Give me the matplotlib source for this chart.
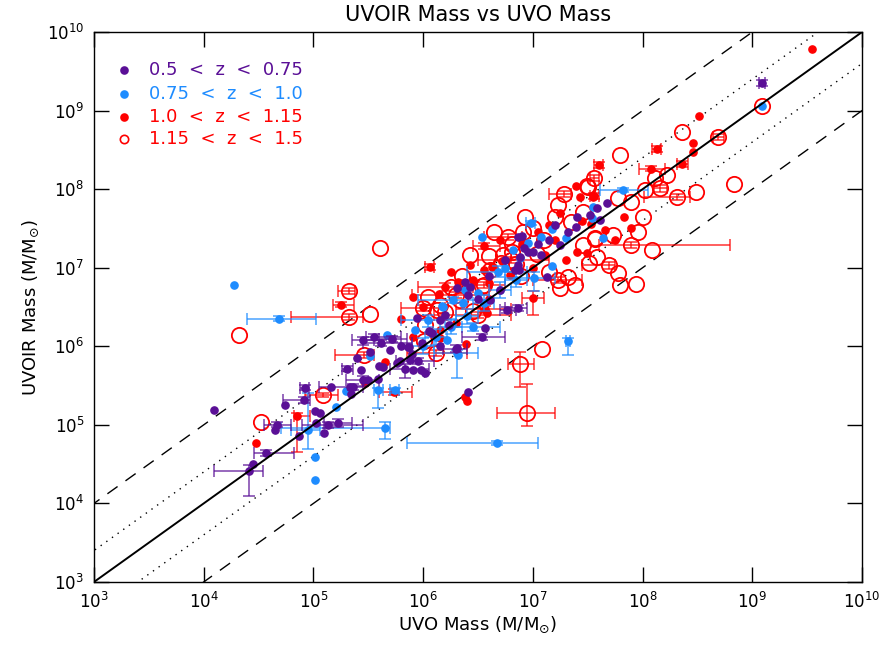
import numpy as np
import matplotlib
matplotlib.use('Agg')
import matplotlib.pyplot as plt

# log10 masses (x = UVO, y = UVOIR)

purple_x = [4.09, 4.45, 5.01, 5.06, 5.02, 5.10, 4.87, 5.16, 5.34, 5.43, 5.50, 5.59,
            5.52, 5.63, 5.76, 5.79, 5.88, 5.98, 6.02, 5.91, 5.87, 5.99, 6.08, 5.33,
            6.41, 5.94, 6.38, 6.43, 6.56, 6.31, 6.92, 6.86, 7.13, 6.87, 7.20, 7.40,
            7.39, 7.32, 7.15, 6.90, 6.96, 6.88, 6.86, 6.84, 7.58, 7.68, 6.31, 6.41,
            5.86, 6.15, 6.24, 6.61, 6.70, 7.07, 7.25, 7.52, 7.61, 4.65, 4.74,
            5.70, 5.80, 5.90, 6.05, 6.15, 6.20, 6.50, 6.60, 6.75, 7.00, 7.05, 5.60,
            5.40]
purple_y = [5.19, 4.50, 5.18, 5.15, 5.02, 4.90, 4.86, 5.48, 5.39, 5.70, 5.57, 5.58,
            5.93, 5.74, 5.79, 5.81, 5.83, 5.70, 5.66, 5.70, 5.99, 6.04, 6.17, 5.48,
            5.42, 6.36, 6.82, 6.75, 6.23, 5.98, 7.25, 7.39, 6.88, 6.97, 7.54, 7.65,
            7.52, 7.45, 7.35, 7.40, 7.20, 7.14, 7.03, 6.97, 7.76, 7.82, 6.74, 6.65,
            5.99, 6.33, 6.27, 6.59, 6.72, 7.16, 7.29, 7.67, 7.61, 4.93, 5.25,
            5.95, 6.00, 5.90, 6.20, 6.00, 6.40, 6.60, 6.90, 7.10, 7.20, 7.30, 5.75,
            5.85]

# points with error bars: centre, x range, y range
purple_ex = [4.57, 4.41, 4.91, 4.92, 5.45, 5.45, 5.31, 5.55, 6.76, 9.09, 5.13,
             5.22, 5.36, 5.72, 6.30, 6.86, 5.62, 4.67, 5.83, 5.95, 6.54]
purple_ey = [4.64, 4.41, 5.32, 5.47, 6.08, 5.57, 5.71, 6.12, 6.46, 9.35, 5.00,
             5.02, 5.48, 6.09, 5.97, 6.49, 6.04, 5.00, 5.71, 5.81, 6.12]
purple_xlo = [4.46, 4.09, 4.72, 4.88, 5.35, 5.30, 5.26, 5.48, 6.70, 9.06, 4.90,
              5.10, 5.05, 5.60, 6.18, 6.75, 5.45, 4.55, 5.70, 5.75, 6.35]
purple_xhi = [4.82, 4.54, 4.97, 4.96, 5.55, 5.60, 5.36, 5.80, 6.85, 9.12, 5.45,
              5.35, 5.45, 5.85, 6.40, 6.95, 5.90, 4.80, 6.05, 6.10, 6.75]
purple_ylo = [4.60, 4.09, 5.28, 5.44, 6.02, 5.50, 5.68, 6.08, 6.42, 9.31, 4.96,
              4.97, 5.44, 6.05, 5.93, 6.45, 6.00, 4.97, 5.60, 5.77, 6.08]
purple_yhi = [4.68, 4.49, 5.36, 5.51, 6.12, 5.62, 5.75, 6.16, 6.50, 9.39, 5.04,
              5.07, 5.52, 6.13, 6.01, 6.53, 6.08, 5.03, 5.78, 5.85, 6.16]

blue_x = [4.28, 5.01, 5.01, 5.21, 5.30, 5.52, 5.67, 6.22, 6.17, 6.36, 6.32, 6.54,
          6.96, 7.17, 7.07, 7.17, 7.30, 7.55, 7.54, 7.64, 9.09, 6.82, 6.50, 6.18,
          5.93, 6.38, 6.75, 6.88]
blue_y = [6.78, 4.59, 4.30, 5.23, 5.43, 5.88, 6.14, 6.08, 6.51, 6.55, 5.89, 7.39,
          7.31, 7.02, 7.39, 7.49, 7.38, 7.77, 7.63, 7.38, 9.06, 7.23, 6.68, 6.50,
          6.21, 6.72, 7.00, 7.12]

blue_ex = [4.69, 4.95, 5.65, 6.67, 7.32, 5.59, 5.74, 6.98, 7.82, 6.27, 6.45, 6.31,
           7.01, 6.04, 6.68, 6.00, 6.12, 6.25, 6.40, 6.55, 6.70, 6.85]
blue_ey = [6.35, 4.93, 4.96, 4.77, 6.07, 5.44, 5.44, 7.57, 7.99, 6.59, 6.25, 5.91,
           6.87, 6.33, 6.95, 6.00, 6.12, 6.25, 6.38, 6.55, 6.72, 6.85]
blue_xlo = [4.39, 4.80, 4.70, 5.85, 7.30, 5.55, 5.70, 6.94, 7.61, 5.95, 6.20, 6.10,
            6.75, 5.80, 6.40, 5.90, 6.02, 6.15, 6.30, 6.45, 6.60, 6.75]
blue_xhi = [5.02, 5.06, 5.70, 7.05, 7.34, 5.63, 5.78, 7.02, 8.05, 6.60, 6.70, 6.50,
            7.20, 6.30, 6.95, 6.10, 6.22, 6.35, 6.50, 6.65, 6.80, 6.95]
blue_ylo = [6.32, 4.69, 4.82, 4.74, 5.89, 5.21, 5.41, 7.54, 7.96, 6.55, 6.20, 5.60,
            6.70, 6.25, 6.88, 5.90, 6.02, 6.15, 6.28, 6.45, 6.62, 6.75]
blue_yhi = [6.38, 5.41, 5.03, 4.80, 6.10, 5.47, 5.47, 7.60, 8.02, 6.63, 6.30, 5.95,
            6.95, 6.40, 7.02, 6.10, 6.22, 6.35, 6.48, 6.65, 6.82, 6.95]

red_x = [4.48, 5.47, 5.65, 6.39, 6.55, 6.63, 6.72, 7.39, 7.43, 7.53, 7.40, 7.49,
         7.55, 7.83, 7.89, 8.46, 8.46, 8.51, 9.54, 6.38, 6.40, 6.14, 5.91, 6.32,
         6.58, 5.91, 6.43, 6.79, 7.11, 7.66, 7.75, 6.15,
         6.25, 6.45, 6.60, 6.90, 7.05, 7.20, 7.30, 6.70, 6.00, 5.80, 6.15, 6.30,
         6.60, 7.00, 7.15, 7.45, 7.25]
red_y = [4.77, 5.53, 5.80, 6.03, 6.97, 7.01, 7.09, 8.04, 7.90, 7.56, 7.20, 7.19,
         7.90, 7.65, 7.51, 8.47, 8.59, 8.93, 9.78, 5.35, 5.30, 6.67, 6.63, 6.82,
         6.42, 6.12, 7.03, 6.91, 7.16, 7.48, 7.35, 6.21,
         6.95, 6.85, 6.80, 7.30, 7.45, 7.35, 7.10, 7.35, 6.50, 6.35, 6.10, 6.30,
         6.60, 7.00, 7.55, 7.60, 7.70]

red_ex = [4.85, 5.25, 6.06, 7.56, 7.60, 8.08, 8.13, 8.36, 5.73, 6.56, 6.20, 6.55, 7.00]
red_ey = [5.11, 6.53, 7.01, 7.91, 8.31, 8.26, 8.51, 8.32, 5.42, 6.47, 6.75, 7.28, 6.61]
red_xlo = [4.82, 5.18, 6.02, 7.52, 7.56, 7.97, 8.09, 8.31, 5.60, 6.30, 5.95, 6.45, 6.90]
red_xhi = [4.97, 5.37, 6.10, 7.60, 7.64, 8.20, 8.17, 8.41, 5.90, 6.80, 6.45, 6.70, 7.10]
red_ylo = [4.65, 6.50, 6.97, 7.87, 8.27, 8.23, 8.47, 8.28, 5.38, 6.43, 6.70, 7.24, 6.40]
red_yhi = [5.15, 6.56, 7.05, 7.95, 8.35, 8.29, 8.55, 8.36, 5.46, 6.51, 6.80, 7.32, 6.70]

open_x = [4.32, 4.52, 5.52, 5.61, 6.01, 6.02, 6.13, 6.04, 6.71, 6.81, 7.04, 6.89,
          6.93, 6.91, 6.73, 6.81, 7.20, 7.23, 7.49, 7.46, 7.35, 7.57, 7.46, 7.58,
          7.32, 7.38, 7.25, 7.08, 7.79, 8.36, 8.22, 8.11, 7.50, 8.02, 8.83, 8.49,
          7.78, 7.89, 8.00, 7.96, 7.73, 7.57, 9.09, 8.09, 7.78, 7.51, 7.79, 7.94,
          6.20, 6.54, 6.61, 6.43, 6.34, 6.15,
          6.35, 6.60, 6.85, 7.10, 6.45, 6.25, 7.00, 6.65, 7.15]
open_y = [6.14, 5.04, 6.41, 7.25, 6.07, 6.27, 6.46, 6.63, 7.06, 7.20, 7.17, 6.89,
          7.65, 7.45, 7.16, 7.30, 7.65, 7.80, 8.04, 7.71, 7.58, 7.38, 7.29, 7.14,
          6.88, 6.78, 6.74, 5.97, 8.43, 8.73, 8.18, 8.14, 8.03, 7.99, 8.06, 7.96,
          7.89, 7.84, 7.65, 7.46, 7.42, 7.37, 9.06, 7.23, 6.93, 7.06, 6.78, 6.79,
          6.44, 6.77, 6.97, 7.16, 6.59, 6.53,
          6.90, 7.15, 7.05, 7.35, 6.45, 6.75, 7.50, 7.45, 6.95]

open_ex = [5.09, 5.32, 5.32, 5.46, 6.88, 6.95, 7.89, 8.31, 7.69, 6.12, 6.00, 7.28,
           6.55, 6.77, 7.23, 8.69, 7.56, 8.16, 6.30, 6.80, 6.50]
open_ey = [5.38, 6.70, 6.37, 5.89, 5.77, 5.15, 7.29, 7.90, 7.03, 5.91, 6.49, 7.94,
           6.78, 7.39, 6.84, 8.66, 8.14, 8.01, 6.65, 7.10, 6.40]
open_xlo = [4.92, 5.22, 4.80, 5.20, 6.77, 6.67, 7.60, 8.01, 7.45, 5.85, 5.80, 7.15,
            6.35, 6.55, 7.00, 8.64, 7.52, 8.10, 5.90, 6.50, 6.10]
open_xhi = [5.22, 5.38, 5.45, 5.55, 7.01, 7.20, 8.80, 8.43, 7.75, 6.40, 6.20, 7.35,
            6.75, 6.90, 7.45, 8.74, 7.60, 8.22, 6.60, 7.15, 6.80]
open_ylo = [5.35, 6.66, 6.33, 5.85, 5.48, 4.98, 7.25, 7.86, 6.99, 5.87, 6.45, 7.90,
            6.74, 7.35, 6.80, 8.62, 8.10, 7.97, 6.61, 7.06, 6.36]
open_yhi = [5.41, 6.74, 6.41, 5.93, 5.93, 5.52, 7.33, 7.94, 7.07, 5.95, 6.53, 7.98,
            6.82, 7.43, 6.88, 8.70, 8.18, 8.05, 6.69, 7.14, 6.44]

c_purple = '#5a0f96'
c_blue = '#1e8cff'
c_red = '#ff0000'

plt.rcParams['font.family'] = 'DejaVu Sans'
fig = plt.figure(figsize=(8.9, 6.47), dpi=100)
ax = fig.add_axes([0.1056, 0.1005, 0.863, 0.850])


def errs(ex, ey, xlo, xhi, ylo, yhi):
    ex, ey = 10**np.array(ex), 10**np.array(ey)
    xerr = [ex - 10**np.array(xlo), 10**np.array(xhi) - ex]
    yerr = [ey - 10**np.array(ylo), 10**np.array(yhi) - ey]
    return ex, ey, xerr, yerr


def draw_group(x, y, ex, ey, xlo, xhi, ylo, yhi, color, z, hollow=False):
    px, py, xerr, yerr = errs(ex, ey, xlo, xhi, ylo, yhi)
    ax.errorbar(px, py, xerr=xerr, yerr=yerr, fmt='none', ecolor=color,
                elinewidth=1.1, capsize=4, capthick=1.1, alpha=0.8, zorder=z)
    allx = np.concatenate([10**np.array(x), px])
    ally = np.concatenate([10**np.array(y), py])
    if hollow:
        ax.plot(allx, ally, 'o', ms=11, mfc='none', mec=color, mew=1.3,
                ls='none', zorder=z + 1)
    else:
        ax.plot(allx, ally, 'o', ms=5.2, color=color, ls='none', zorder=z + 1)


draw_group(open_x, open_y, open_ex, open_ey, open_xlo, open_xhi, open_ylo,
           open_yhi, c_red, 3, hollow=True)
draw_group(red_x, red_y, red_ex, red_ey, red_xlo, red_xhi, red_ylo, red_yhi,
           c_red, 5)
draw_group(blue_x, blue_y, blue_ex, blue_ey, blue_xlo, blue_xhi, blue_ylo,
           blue_yhi, c_blue, 7)
draw_group(purple_x, purple_y, purple_ex, purple_ey, purple_xlo, purple_xhi,
           purple_ylo, purple_yhi, c_purple, 9)

# 1:1, factor 2.5 and factor 10 lines
xl = np.array([1e2, 1e11])
ax.plot(xl, xl, color='k', lw=1.4, zorder=12)
for f in [10**0.4, 10**-0.4]:
    ax.plot(xl, xl * f, color='k', lw=1.0, ls=(0, (1, 4)), zorder=1)
for f in [10., 0.1]:
    ax.plot(xl, xl * f, color='k', lw=1.0, ls=(0, (9, 7)), zorder=1)

ax.set_xscale('log')
ax.set_yscale('log')
ax.set_xlim(1e3, 1e10)
ax.set_ylim(1e3, 1e10)
ax.minorticks_off()
ax.tick_params(which='major', direction='in', length=11, width=1.0,
               top=True, right=True, labelsize=12, pad=7)
for sp in ax.spines.values():
    sp.set_linewidth(1.0)

ax.set_title('UVOIR Mass vs UVO Mass', fontsize=15, pad=8)
ax.set_xlabel(r'UVO Mass (M/M$_{\odot}$)', fontsize=13, labelpad=2)
ax.set_ylabel(r'UVOIR Mass (M/M$_{\odot}$)', fontsize=13, labelpad=4)

# legend
leg_labels = ['0.5  <  z  <  0.75', '0.75  <  z  <  1.0',
              '1.0  <  z  <  1.15', '1.15  <  z  <  1.5']
leg_colors = [c_purple, c_blue, c_red, c_red]
leg_y = [0.931, 0.888, 0.846, 0.806]
for i in range(4):
    ax.plot([0.039], [leg_y[i]], 'o', transform=ax.transAxes, color=leg_colors[i],
            ms=5 if i < 3 else 6, mfc=leg_colors[i] if i < 3 else 'none',
            mew=1.2, zorder=20)
    ax.text(0.072, leg_y[i], leg_labels[i], transform=ax.transAxes,
            color=leg_colors[i], fontsize=13, va='center', ha='left')

fig.savefig('out.png', dpi=100)
